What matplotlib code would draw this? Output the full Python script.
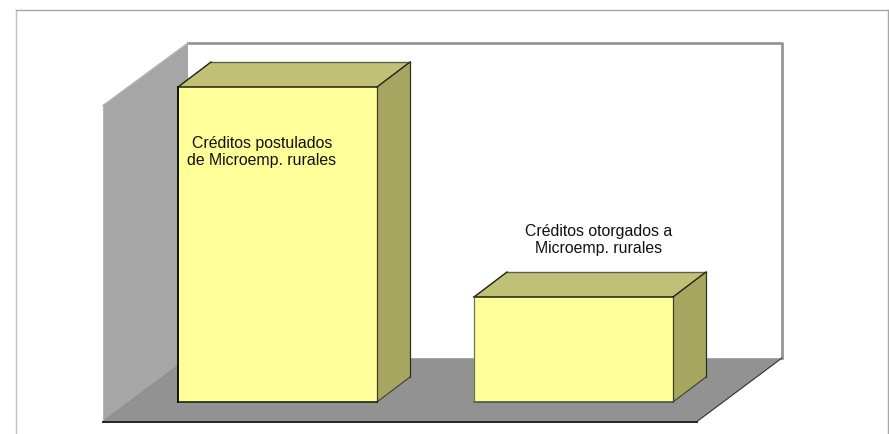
import matplotlib
matplotlib.use('Agg')
import matplotlib.pyplot as plt
from matplotlib.patches import Polygon

plt.rcParams['font.family'] = ['Liberation Sans', 'DejaVu Sans']

# valores (sin eje, solo la proporcion entre barras)
categories = ['Créditos postulados\nde Microemp. rurales',
              'Créditos otorgados a\nMicroemp. rurales']
values = [3.0, 1.0]

W, H = 889, 434
PX_X = 296.0    # pixeles entre categorias
PX_Y = 105.0    # pixeles por unidad de valor
X0 = 277.5      # centro de la primera barra
Y0 = 402.0      # base de las barras
BAR_W = 199 / PX_X
DX = 33 / PX_X  # profundidad de la barra
DY = 25 / PX_Y


def dx(px):
    return (px - X0) / PX_X


def dy(py):
    return (Y0 - py) / PX_Y


def poly(ax, pts, color, z, lw=0.0, edge='none'):
    ax.add_patch(Polygon(pts, closed=True, facecolor=color, edgecolor=edge,
                         linewidth=lw, zorder=z, joinstyle='miter'))


def seg(ax, xs, ys, color, lw, z):
    ax.plot(xs, ys, color=color, lw=lw, zorder=z, solid_capstyle='projecting')


def draw_walls(ax):
    """Paredes y piso del grafico 3D."""
    left, right = dx(188), dx(782)
    top, floor = dy(43), dy(358)
    fl, fr, fb = dx(103), dx(697), dy(421.5)
    lt = dy(105.5)
    poly(ax, [(fl, fb), (fl, lt), (left, top), (left, floor)], '#a6a6a6', 1)
    poly(ax, [(fl, fb), (left, floor), (right, floor), (fr, fb)], '#929292', 2)
    seg(ax, [left, right, right], [top, top, floor], '#969696', 2.0, 3)
    seg(ax, [fl, left], [lt, top], '#b4b4b4', 1.0, 3)
    seg(ax, [fl, fl], [lt, fb], '#b8b8b8', 0.8, 3)
    seg(ax, [left, right], [floor, floor], '#a8a8a8', 0.7, 3)
    seg(ax, [fl, left], [fb, floor], '#8a8a8a', 0.7, 3)
    seg(ax, [fl, fr], [fb, fb], '#222222', 1.4, 4)
    seg(ax, [fr, right], [fb, floor], '#303030', 0.8, 4)


def draw_bar(ax, x, v, heavy):
    """Barra 3D: cara frontal, superior y lateral."""
    x1, x2 = x - BAR_W / 2, x + BAR_W / 2
    poly(ax, [(x1, v), (x1 + DX, v + DY), (x2 + DX, v + DY), (x2, v)],
         '#c0c076', 5)
    poly(ax, [(x2, 0), (x2 + DX, DY), (x2 + DX, v + DY), (x2, v)],
         '#a6a660', 5)
    poly(ax, [(x1, 0), (x1, v), (x2, v), (x2, 0)], '#ffff99', 6)
    # bordes
    seg(ax, [x1 + DX, x2 + DX], [v + DY, v + DY], '#606050', 1.0, 7)
    seg(ax, [x1, x1 + DX], [v, v + DY], '#202010', 1.0, 7)
    seg(ax, [x2, x2 + DX], [v, v + DY], '#202010', 1.0, 7)
    seg(ax, [x2 + DX, x2 + DX], [v + DY, DY], '#303020', 0.9, 7)
    seg(ax, [x2, x2 + DX], [0, DY], '#404030', 0.8, 7)
    seg(ax, [x2, x2], [0, v], '#404030', 0.9, 7)
    seg(ax, [x1, x2], [v, v], '#202010', 1.1, 7)
    seg(ax, [x1, x2], [0, 0], '#202010' if heavy else '#505040', 1.2, 7)
    seg(ax, [x1, x1], [0, v], '#101008' if heavy else '#707060', 1.4 if heavy else 0.9, 7)


fig = plt.figure(figsize=(W / 100, H / 100), dpi=100)
ax = fig.add_axes([0, 0, 1, 1])
ax.set_xlim(dx(0), dx(W))
ax.set_ylim(dy(H), dy(0))
ax.axis('off')

# marco exterior
seg(ax, [dx(16), dx(16)], [dy(H), dy(10)], '#c4c4c4', 1.0, 0)
seg(ax, [dx(16), dx(888)], [dy(10), dy(10)], '#a6a6a6', 1.0, 0)
seg(ax, [dx(888), dx(888)], [dy(10), dy(H)], '#a6a6a6', 1.0, 0)

draw_walls(ax)
for i, v in enumerate(values):
    draw_bar(ax, i, v, i == 0)

ax.text(dx(262), dy(152), categories[0], ha='center', va='center', fontsize=11.4,
        color='#111111', linespacing=1.15, zorder=8)
ax.text(dx(599), dy(240), categories[1], ha='center', va='center', fontsize=11.4,
        color='#111111', linespacing=1.15, zorder=8)

fig.savefig('out.png', dpi=100)
